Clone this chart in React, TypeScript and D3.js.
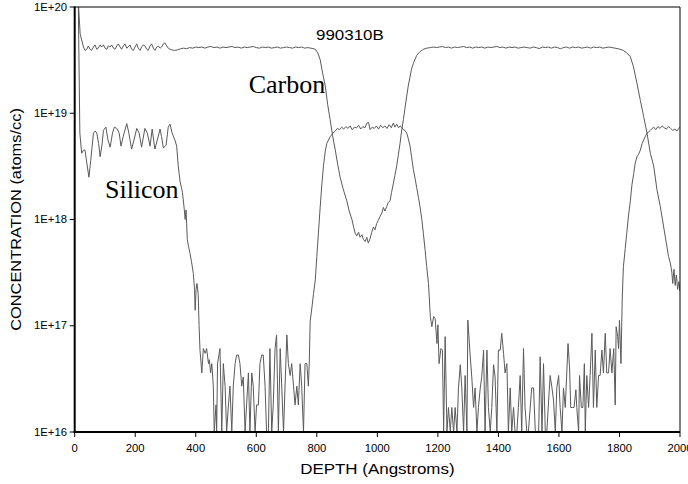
import React from "react";
import * as d3 from "d3";

// ---- data: [depth (Å), concentration (atoms/cc)] ----
const carbonProfile: [number, number][] = [
  [0,1.5e20],[13,1.0e20],[18,5.6e19],[23,4.9e19],[29,4.2e19],[34,3.9e19],[40,4.0e19],[45,4.3e19],[51,4.0e19],[56,3.9e19],
  [62,4.2e19],[67,4.4e19],[73,4.0e19],[78,4.1e19],[84,4.4e19],[89,4.2e19],[95,4.4e19],[100,4.1e19],[106,4.0e19],[111,4.3e19],
  [117,4.2e19],[122,4.4e19],[128,4.1e19],[133,4.0e19],[139,4.3e19],[144,4.5e19],[150,4.2e19],[155,4.0e19],[161,4.3e19],[166,4.5e19],
  [172,4.1e19],[177,4.2e19],[183,4.4e19],[188,4.0e19],[194,3.9e19],[199,4.2e19],[205,4.5e19],[210,4.1e19],[216,3.9e19],[221,4.2e19],
  [227,4.4e19],[232,4.3e19],[238,4.0e19],[243,3.9e19],[249,4.3e19],[254,4.5e19],[260,4.1e19],[265,3.9e19],[271,4.2e19],[276,4.3e19],
  [282,4.1e19],[287,4.2e19],[293,4.5e19],[298,4.6e19],[304,4.3e19],[309,4.1e19],[315,4.0e19],[320,3.95e19],[330,3.9e19],[340,3.95e19],
  [350,4.05e19],[360,4.1e19],[370,4.05e19],[380,4.15e19],[390,4.1e19],[400,4.2e19],[410,4.15e19],[420,4.2e19],[430,4.1e19],[440,4.2e19],
  [450,4.25e19],[460,4.15e19],[470,4.2e19],[480,4.1e19],[490,4.2e19],[500,4.15e19],[510,4.2e19],[520,4.25e19],[530,4.15e19],[540,4.2e19],
  [550,4.1e19],[560,4.2e19],[570,4.15e19],[580,4.2e19],[590,4.25e19],[600,4.15e19],[610,4.1e19],[620,4.2e19],[630,4.15e19],[640,4.2e19],
  [650,4.1e19],[660,4.15e19],[670,4.2e19],[680,4.1e19],[690,4.15e19],[700,4.2e19],[710,4.15e19],[720,4.1e19],[730,4.2e19],[740,4.15e19],
  [750,4.2e19],[760,4.1e19],[770,4.15e19],[780,4.1e19],[790,4.05e19],[795,4.0e19],[803,3.7e19],[811,3.2e19],[819,2.4e19],[828,1.8e19],
  [836,1.2e19],[844,8.7e18],[852,6.2e18],[861,4.5e18],[869,3.3e18],[877,2.5e18],[888,1.9e18],[899,1.5e18],[907,1.2e18],[916,1.0e18],
  [922,8.4e17],[927,7.4e17],[932,7.0e17],[938,7.6e17],[943,6.8e17],[949,7.2e17],[954,6.5e17],[960,6.2e17],[965,6.8e17],[970,6.0e17],
  [976,6.6e17],[981,7.5e17],[987,8.5e17],[992,8.0e17],[998,9.2e17],[1003,9.8e17],[1009,1.07e18],[1015,1.15e18],[1020,1.3e18],[1025,1.2e18],
  [1031,1.32e18],[1036,1.45e18],[1042,1.5e18],[1047,1.8e18],[1053,2.2e18],[1058,2.6e18],[1064,3.2e18],[1069,4.0e18],[1075,5.2e18],[1080,6.8e18],
  [1086,8.7e18],[1091,1.1e19],[1097,1.45e19],[1102,1.8e19],[1108,2.2e19],[1113,2.6e19],[1119,2.95e19],[1130,3.5e19],[1141,3.8e19],[1152,4.0e19],
  [1163,4.1e19],[1175,4.15e19],[1185,4.2e19],[1195,4.15e19],[1205,4.2e19],[1215,4.25e19],[1225,4.15e19],[1235,4.2e19],[1245,4.1e19],[1255,4.2e19],
  [1265,4.15e19],[1275,4.2e19],[1285,4.25e19],[1295,4.15e19],[1305,4.2e19],[1315,4.1e19],[1325,4.2e19],[1335,4.15e19],[1345,4.2e19],[1355,4.1e19],
  [1365,4.2e19],[1375,4.15e19],[1385,4.2e19],[1395,4.25e19],[1405,4.15e19],[1415,4.2e19],[1425,4.1e19],[1435,4.2e19],[1445,4.15e19],[1455,4.2e19],
  [1465,4.1e19],[1475,4.15e19],[1485,4.2e19],[1495,4.15e19],[1505,4.1e19],[1515,4.2e19],[1525,4.15e19],[1535,4.05e19],[1545,4.2e19],[1555,4.15e19],
  [1565,4.2e19],[1575,4.1e19],[1585,4.2e19],[1595,4.15e19],[1605,4.05e19],[1615,4.15e19],[1625,4.2e19],[1635,4.1e19],[1645,4.2e19],[1655,4.15e19],
  [1665,4.2e19],[1675,4.1e19],[1685,4.15e19],[1695,4.2e19],[1705,4.1e19],[1715,4.2e19],[1725,4.15e19],[1735,4.2e19],[1745,4.1e19],[1755,4.15e19],
  [1765,4.2e19],[1775,4.15e19],[1785,4.1e19],[1795,4.05e19],[1802,4.0e19],[1813,3.9e19],[1824,3.7e19],[1836,3.4e19],[1846,2.75e19],[1858,1.9e19],
  [1869,1.32e19],[1880,9.3e18],[1891,6.5e18],[1902,4.2e18],[1913,3.2e18],[1924,1.9e18],[1935,1.32e18],[1946,8.5e17],[1957,5.5e17],[1962,4.5e17],
  [1968,3.9e17],[1973,3.2e17],[1976,2.5e17],[1980,3.4e17],[1984,2.4e17],[1988,3.0e17],[1992,2.2e17],[1996,2.6e17],[2000,2.1e17],
];

const siliconProfile: [number, number][] = [
  [0,2e20],[12,1e20],[17,6.5e18],[23,4.2e18],[29,4.5e18],[34,4.5e18],[40,3.4e18],[47,2.5e18],[53,3.6e18],[62,6.5e18],
  [68,6.8e18],[73,6.5e18],[79,5.2e18],[84,3.9e18],[90,5.0e18],[95,6.9e18],[103,7.4e18],[110,5.6e18],[117,4.8e18],[125,6.5e18],
  [131,7.4e18],[139,7.2e18],[147,6.5e18],[153,4.9e18],[160,6.0e18],[172,8.0e18],[179,6.5e18],[188,4.6e18],[196,5.6e18],[205,7.2e18],
  [213,6.5e18],[221,4.8e18],[232,7.2e18],[240,6.5e18],[249,4.9e18],[256,7.1e18],[265,4.6e18],[273,5.6e18],[282,7.1e18],[287,6.0e18],
  [293,4.7e18],[302,5.0e18],[309,7.4e18],[315,7.9e18],[322,6.5e18],[331,5.6e18],[337,4.9e18],[342,3.2e18],[348,2.3e18],[356,1.8e18],
  [362,1.25e18],[365,1.0e18],[368,1.23e18],[372,6.5e17],[376,5.6e17],[381,4.8e17],[386,4.0e17],[392,3.1e17],[396,2.2e17],[398,1.4e17],
  [401,2.2e17],[404,2.5e17],[408,2.0e17],[411,1.0e17],[414,5.9e16],[420,3.6e16],[425,6.1e16],[431,5.5e16],[436,6.1e16],[442,4.4e16],
  [445,4.8e16],[449,3.6e16],[453,4.4e16],[458,2.7e16],[461,1e16],[467,1.8e16],[469,1e16],[472,4.4e16],[480,6.1e16],[486,1e16],
  [491,4.4e16],[497,2.7e16],[502,1e16],[508,1.8e16],[513,2.7e16],[519,1e16],[524,2.7e16],[530,4.4e16],[535,5.3e16],[541,5.3e16],
  [546,4.4e16],[552,2.7e16],[557,3.3e16],[563,1e16],[568,1.8e16],[574,3.6e16],[579,1e16],[585,3.6e16],[590,2.7e16],[596,1e16],
  [601,1.8e16],[607,1.8e16],[612,4.4e16],[618,5.3e16],[623,5.3e16],[629,2.7e16],[634,1e16],[640,1e16],[645,6.1e16],[651,1e16],
  [656,1.8e16],[662,6.1e16],[667,8.2e16],[673,1e16],[679,6.1e16],[684,2.7e16],[690,1e16],[695,2.7e16],[701,8.2e16],[706,4.4e16],
  [712,3.4e16],[717,4.4e16],[723,2.7e16],[728,1.8e16],[734,2.7e16],[739,1.8e16],[745,4.4e16],[750,2.7e16],[756,1e16],[761,4.4e16],
  [767,4.4e16],[772,2.7e16],[775,4.4e16],[778,1.1e17],[784,1.5e17],[789,2.0e17],[795,2.7e17],[800,4.5e17],[806,8e17],[811,1.3e18],
  [817,2.2e18],[822,3.2e18],[828,4.4e18],[833,5.2e18],[844,6.0e18],[853,6.5e18],[861,6.8e18],[868,7.2e18],[875,7.0e18],[882,7.4e18],
  [889,7.1e18],[896,7.5e18],[903,7.2e18],[910,7.6e18],[917,7.0e18],[924,7.4e18],[931,7.3e18],[938,7.7e18],[945,7.1e18],[952,7.5e18],
  [959,7.3e18],[966,8.1e18],[971,8.2e18],[976,7.0e18],[983,7.4e18],[990,7.2e18],[997,7.6e18],[1004,7.1e18],[1011,7.7e18],[1018,7.3e18],
  [1025,7.6e18],[1032,7.2e18],[1039,7.8e18],[1046,7.3e18],[1053,8.1e18],[1058,7.4e18],[1064,7.9e18],[1070,7.3e18],[1075,7.6e18],[1080,7.4e18],
  [1086,7.0e18],[1091,6.9e18],[1097,6.5e18],[1102,5.8e18],[1108,4.9e18],[1113,3.9e18],[1119,2.95e18],[1125,2.4e18],[1130,2.0e18],[1136,1.6e18],
  [1141,1.32e18],[1147,1.0e18],[1152,7.4e17],[1158,5.1e17],[1163,3.6e17],[1169,2.5e17],[1175,1.22e17],[1180,9.8e16],[1186,1.22e17],[1191,1.17e17],
  [1197,6.8e16],[1200,1.02e17],[1204,4.4e16],[1210,6.1e16],[1215,5.9e16],[1219,1e16],[1224,7.9e16],[1230,1e16],[1235,1.7e16],[1241,1e16],
  [1246,1.7e16],[1252,1e16],[1257,1.7e16],[1263,1e16],[1268,2.6e16],[1274,4.3e16],[1279,2.6e16],[1285,1e16],[1290,3.4e16],[1296,1e16],
  [1299,1.13e17],[1307,5.1e16],[1312,3.3e16],[1318,1.7e16],[1323,2.6e16],[1329,1e16],[1334,1.7e16],[1340,2.6e16],[1345,3.3e16],[1351,5.9e16],
  [1356,1e16],[1362,5.9e16],[1367,1.7e16],[1373,1e16],[1378,1.7e16],[1384,4.3e16],[1389,3.3e16],[1395,1e16],[1400,5.9e16],[1406,5.9e16],
  [1411,8.5e16],[1417,5.5e16],[1422,3.6e16],[1428,4.4e16],[1433,1e16],[1439,2.6e16],[1444,1e16],[1450,1.7e16],[1455,1e16],[1461,1e16],
  [1466,1.7e16],[1472,3.4e16],[1477,1e16],[1483,6.1e16],[1488,1.7e16],[1494,1e16],[1499,1e16],[1510,2.6e16],[1516,2.6e16],[1522,1e16],
  [1527,1e16],[1533,1e16],[1538,5.1e16],[1544,1e16],[1549,4.4e16],[1555,1e16],[1560,1e16],[1566,2.0e16],[1571,3.4e16],[1577,2.6e16],
  [1582,2.0e16],[1588,1e16],[1593,2.6e16],[1599,3.4e16],[1604,1.7e16],[1610,1e16],[1615,2.6e16],[1621,1.7e16],[1630,6.8e16],[1635,4.1e16],
  [1639,1.7e16],[1645,1.7e16],[1650,1.7e16],[1656,2.5e16],[1659,1.7e16],[1665,1e16],[1668,3.4e16],[1674,1.7e16],[1679,1.7e16],[1684,4.4e16],
  [1687,1e16],[1692,3.4e16],[1698,1.7e16],[1703,3.4e16],[1709,8.5e16],[1714,1.7e16],[1720,5.9e16],[1725,1.7e16],[1731,3.4e16],[1736,3.4e16],
  [1742,5.9e16],[1747,3.6e16],[1753,8.5e16],[1758,3.6e16],[1764,3.6e16],[1769,6.1e16],[1775,3.6e16],[1781,6.1e16],[1786,1.8e16],[1789,9.8e16],
  [1794,7.9e16],[1797,6.1e16],[1800,1.13e17],[1805,4.4e16],[1809,1.75e17],[1813,3.6e17],[1819,5.3e17],[1824,7.4e17],[1830,1.1e18],[1836,1.5e18],
  [1841,2.1e18],[1847,2.7e18],[1852,3.4e18],[1858,3.9e18],[1863,4.1e18],[1869,4.5e18],[1875,5.2e18],[1880,5.6e18],[1886,6.1e18],[1891,6.5e18],
  [1897,6.7e18],[1902,6.9e18],[1908,7.2e18],[1913,7.4e18],[1920,7.0e18],[1927,7.5e18],[1934,7.2e18],[1941,7.6e18],[1948,7.3e18],[1955,7.1e18],
  [1962,7.5e18],[1969,7.2e18],[1976,6.9e18],[1983,7.1e18],[1990,6.8e18],[1996,7.2e18],[2000,7.4e18],
];

const xTicks = [0, 200, 400, 600, 800, 1000, 1200, 1400, 1600, 1800, 2000];
const yTicks = [1e16, 1e17, 1e18, 1e19, 1e20];
const yTickLabels = ["1E+16", "1E+17", "1E+18", "1E+19", "1E+20"];
const seriesLabels = [
  { name: "Carbon", depth: 575, conc: 1.55e19 },
  { name: "Silicon", depth: 100, conc: 1.6e18 },
];
const sampleId = "990310B";
const xTitle = "DEPTH (Angstroms)";
const yTitle = "CONCENTRATION (atoms/cc)";

const W = 688, H = 484;
const L = 74.7, R = 680, T = 7, B = 432;
const SX = 1.13; // horizontal stretch of the sans text
const SANS = "Arial, 'Liberation Sans', Helvetica, sans-serif";
const SERIF = "'Times New Roman', 'Liberation Serif', Times, serif";

export default function App() {
  const x = d3.scaleLinear().domain([0, 2000]).range([L, R]);
  const y = d3.scaleLog().domain([1e16, 1e20]).range([B, T]);
  const line = d3.line<[number, number]>().x((d) => x(d[0])).y((d) => y(d[1]));
  const lineColor = "#5a5a5a";

  return (
    <svg width={W} height={H} style={{ position: "absolute", left: 0, top: 0, display: "block", background: "#fff" }}>
      <defs>
        <clipPath id="plotClip">
          <rect x={L} y={T} width={R - L} height={B - T} />
        </clipPath>
      </defs>
      <g clipPath="url(#plotClip)" fill="none" stroke={lineColor} strokeWidth={1}>
        <path d={line(carbonProfile) || ""} />
        <path d={line(siliconProfile) || ""} />
      </g>
      {/* frame */}
      <line x1={L} y1={T} x2={R} y2={T} stroke="#000" strokeWidth={1} />
      <line x1={R} y1={T} x2={R} y2={B} stroke="#000" strokeWidth={1} />
      <line x1={L} y1={T - 0.5} x2={L} y2={B + 1} stroke="#000" strokeWidth={2} />
      <line x1={L - 1} y1={B} x2={R} y2={B} stroke="#000" strokeWidth={2} />
      {/* y ticks */}
      {yTicks.map((t, i) => (
        <g key={"y" + i}>
          <line x1={L - 5} x2={L} y1={y(t)} y2={y(t)} stroke="#000" strokeWidth={1} />
          <text
            transform={`translate(${67},${y(t) + 3.6}) scale(${SX},1)`}
            textAnchor="end"
            fontFamily={SANS}
            fontSize={10}
            fill="#000"
          >
            {yTickLabels[i]}
          </text>
        </g>
      ))}
      {/* x ticks */}
      {xTicks.map((t) => (
        <g key={"x" + t}>
          <line x1={x(t)} x2={x(t)} y1={B} y2={B + 5} stroke="#000" strokeWidth={1} />
          <text
            transform={`translate(${x(t)},${452}) scale(${SX},1)`}
            textAnchor="middle"
            fontFamily={SANS}
            fontSize={10}
            fill="#000"
          >
            {t}
          </text>
        </g>
      ))}
      {/* axis titles */}
      <text
        transform={`translate(${(L + R) / 2},${474}) scale(${SX},1)`}
        textAnchor="middle"
        fontFamily={SANS}
        fontSize={15}
        fill="#000"
      >
        {xTitle}
      </text>
      <text
        transform={`translate(${21},${(T + B) / 2}) rotate(-90) scale(${SX},1)`}
        textAnchor="middle"
        fontFamily={SANS}
        fontSize={14.5}
        fill="#000"
      >
        {yTitle}
      </text>
      {/* annotations */}
      <text
        transform={`translate(${316},${40}) scale(${SX},1)`}
        fontFamily={SANS}
        fontSize={15}
        fill="#000"
      >
        {sampleId}
      </text>
      {seriesLabels.map((s) => (
        <text key={s.name} x={x(s.depth)} y={y(s.conc)} fontFamily={SERIF} fontSize={26} fill="#000">
          {s.name}
        </text>
      ))}
    </svg>
  );
}
